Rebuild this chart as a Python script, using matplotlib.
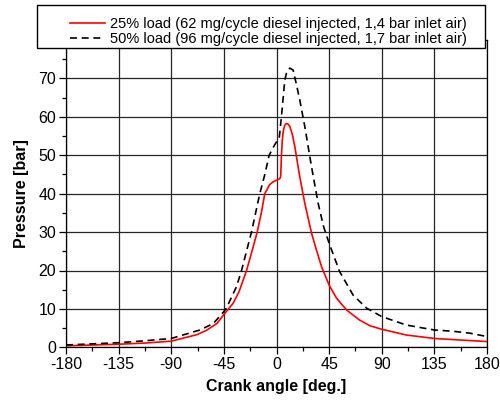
import matplotlib
matplotlib.use('Agg')
import matplotlib.pyplot as plt
from matplotlib.patches import Rectangle

plt.rcParams['font.family'] = ['Liberation Sans', 'DejaVu Sans']
plt.rcParams['axes.unicode_minus'] = False

# 25% load curve (red)
angle_25 = [-180, -157.5, -135, -112.5, -90, -68, -60, -51, -44, -37, -32, -25.6, -21,
            -16.5, -13, -10, -6, -2.9, 0, 2.8, 3.6, 4.2, 5, 5.7, 7, 8.5, 10, 11.4, 13.5,
            15.7, 19.9, 24.2, 30, 34.2, 38.5, 45, 51.3, 60, 71, 80, 90, 111, 135, 157, 180]
press_25 = [0.4, 0.6, 0.8, 1.1, 1.6, 3.3, 4.4, 6.2, 8.9, 11.5, 14.5, 20, 25,
            30, 35, 40, 42.3, 43.1, 43.5, 43.9, 44.5, 49.9, 54, 56.2, 57.8, 58.3, 58.1, 57.5, 55.5,
            52.2, 44.4, 37.5, 29.7, 25.3, 21, 16.2, 12.8, 9.7, 7.1, 5.6, 4.7, 3.2, 2.3, 1.9, 1.5]

# 50% load curve (black dashed)
angle_50 = [-180, -157.5, -135, -112.5, -90, -65.6, -54, -45, -42.7, -34.2, -29.9, -21.4,
            -14.3, -10, -6.3, -2, 0, 2.3, 4.2, 7.1, 9, 11.4, 14.2, 17, 19.9, 24.2, 29.9,
            35.6, 40.3, 45, 54, 65.5, 77, 90, 111, 135, 150, 165, 180]
press_50 = [0.6, 0.9, 1.2, 1.7, 2.3, 4.5, 6.2, 9.3, 10.3, 15.8, 20, 30,
            40, 45, 50, 52.5, 53.5, 54.4, 60, 69.6, 72, 72.7, 72.2, 68.5, 64.4, 57.5, 47.1,
            37.5, 31.4, 27.1, 19.7, 13.6, 10.2, 8, 5.8, 4.5, 4.2, 3.7, 2.8]

labels = ['25% load (62 mg/cycle diesel injected, 1,4 bar inlet air)',
          '50% load (96 mg/cycle diesel injected, 1,7 bar inlet air)']

W, H = 500, 404
fig = plt.figure(figsize=(W / 100, H / 100), dpi=100)
ax = fig.add_axes([66 / W, 1 - 347.3 / H, 421 / W, (347.3 - 40.1) / H])

l1, = ax.plot(angle_25, press_25, color='red', lw=1.2)
l2, = ax.plot(angle_50, press_50, color='black', lw=1.2, dashes=(4.2, 2.8))

ax.set_xlim(-180, 180)
ax.set_ylim(0, 80)
ax.set_xticks(range(-180, 181, 45))
ax.set_xticks([x + 22.5 for x in range(-180, 180, 45)], minor=True)
ax.set_yticks(range(0, 71, 10))
ax.set_yticks([y + 5 for y in range(0, 80, 10)], minor=True)
ax.grid(True, which='major', color='0.15', lw=0.9)
ax.set_axisbelow(True)
ax.tick_params(which='major', direction='out', length=5, width=0.9, labelsize=11.5, pad=2)
ax.tick_params(which='minor', direction='out', length=3, width=0.9)
for s in ax.spines.values():
    s.set_linewidth(0.9)

ax.set_xlabel('Crank angle [deg.]', fontsize=11.5, fontweight='bold', labelpad=5)
ax.set_ylabel('Pressure [bar]', fontsize=11.5, fontweight='bold', labelpad=7)

# legend box sits over the top of the axes
fig.patches.append(Rectangle((37 / W, 1 - 48 / H), 448 / W, 43 / H, transform=fig.transFigure,
                             facecolor='white', edgecolor='black', lw=1, zorder=3))
fig.legend([l1, l2], labels, loc='upper left', bbox_to_anchor=(63 / W, 1 - 10 / H),
           frameon=False, fontsize=10.5, borderpad=0, handlelength=2.4, handletextpad=0.35,
           labelspacing=0.08)

fig.savefig('out.png', dpi=100)
